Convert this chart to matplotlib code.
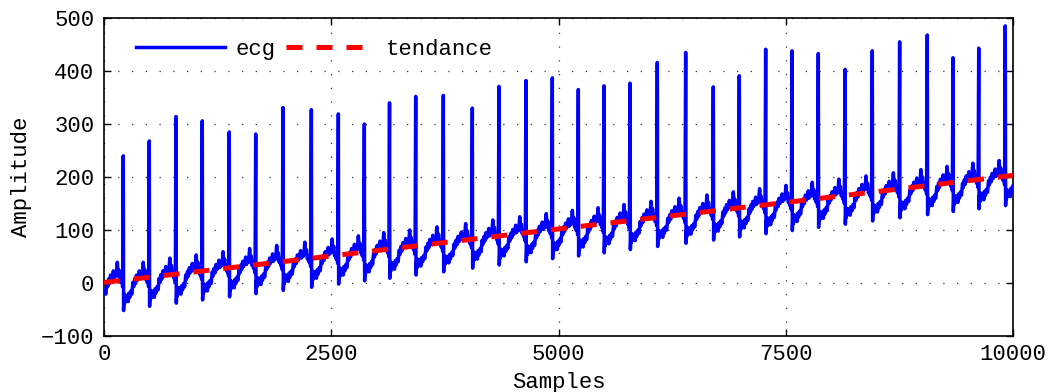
import numpy as np
import matplotlib
matplotlib.use('Agg')
import matplotlib.pyplot as plt

# ---- data ----
# R-peak positions (samples) and their amplitudes
r_samples = [212, 498, 792, 1081, 1378, 1669, 1969, 2281, 2578, 2864,
             3141, 3429, 3733, 4052, 4345, 4642, 4932, 5218, 5500, 5787,
             6087, 6399, 6703, 6989, 7279, 7569, 7858, 8152, 8452, 8753,
             9057, 9340, 9623, 9915]
r_heights = [240, 268, 314, 306, 285, 281, 331, 327, 319, 300,
             340, 352, 354, 330, 371, 382, 387, 365, 372, 377,
             416, 435, 370, 391, 441, 438, 433, 403, 438, 455,
             468, 425, 443, 485]
# baseline level of the signal around each beat
beat_base = [3, 11, 17, 23, 29, 35, 41, 47, 53, 59,
             64, 70, 76, 83, 89, 95, 101, 106, 112, 118,
             124, 130, 136, 142, 148, 154, 160, 166, 172, 178,
             184, 190, 195, 201]
# shape of one beat after the R peak (fraction of RR interval, offset from baseline)
tmpl_frac = [0.012, 0.030, 0.045, 0.065, 0.085, 0.110, 0.130, 0.160, 0.190, 0.215,
             0.250, 0.290, 0.330, 0.370, 0.400, 0.440, 0.470, 0.510, 0.540, 0.580,
             0.620, 0.650, 0.690, 0.730, 0.770, 0.800, 0.830, 0.860, 0.890, 0.920,
             0.950, 0.975]
tmpl_rel = [-55, -30, -42, -25, -38, -30, -34, -26, -38, -22,
            -30, -18, -24, -2, -10, 5, -4, 12, 2, 8,
            20, 6, 14, 10, 36, 14, 22, 4, 10, -2,
            6, -10]
start_sample, start_value = 0, -14
end_sample = 10000

# trend line
trend_samples = [0, 2500, 5000, 7500, 10000]
trend_values = [1, 51, 102, 152, 203]

x_ticks = [0, 2500, 5000, 7500, 10000]
y_ticks = [-100, 0, 100, 200, 300, 400, 500]

# ---- assemble the ECG vertex list from the read values ----
xs, ys = [start_sample], [start_value]
n = len(r_samples)
rr0 = r_samples[1] - r_samples[0]
for f, v in zip(tmpl_frac, tmpl_rel):
    s = r_samples[0] - rr0 + f * rr0
    if s > start_sample:
        xs.append(s); ys.append(beat_base[0] + v)
for i, r in enumerate(r_samples):
    xs.append(r); ys.append(r_heights[i])
    rr = (r_samples[i + 1] - r) if i + 1 < n else (r - r_samples[i - 1])
    for f, v in zip(tmpl_frac, tmpl_rel):
        s = r + f * rr
        if s <= end_sample:
            xs.append(s); ys.append(beat_base[i] + v)
xs = np.array(xs); ys = np.array(ys)

# ---- plotting ----
plt.rcParams['font.family'] = ['Liberation Mono', 'DejaVu Sans Mono']
plt.rcParams['font.size'] = 16

fig = plt.figure(figsize=(10.51, 3.92), dpi=100)
ax = fig.add_axes([104/1051, 1 - 336/392, 909/1051, 318/392])

ax.plot(xs, ys, color='#0000ff', lw=2.5, label='ecg', zorder=3)
ax.plot(trend_samples, trend_values, color='#ff0000', lw=3.6,
        dashes=(3.2, 2.8), label='tendance', zorder=4)

ax.set_xlim(0, 10000)
ax.set_ylim(-100, 500)
ax.set_xticks(x_ticks)
ax.set_yticks(y_ticks)
ax.grid(True, color='#333333', linestyle=(0, (1, 10)), linewidth=0.9)
ax.set_axisbelow(True)
ax.tick_params(direction='in', top=True, right=True, length=5, width=1)
ax.tick_params(axis='x', pad=6)
ax.tick_params(axis='y', pad=7)
for sp in ax.spines.values():
    sp.set_linewidth(1.2)

ax.set_xlabel('Samples', labelpad=5)
ax.set_ylabel('Amplitude', labelpad=6)

ax.legend(ncol=2, frameon=False, loc='center left',
          bbox_to_anchor=(0.035, 0.9025), borderpad=0, borderaxespad=0,
          handlelength=4, handletextpad=0.5, columnspacing=0.45)

fig.savefig('out.png', dpi=100)
